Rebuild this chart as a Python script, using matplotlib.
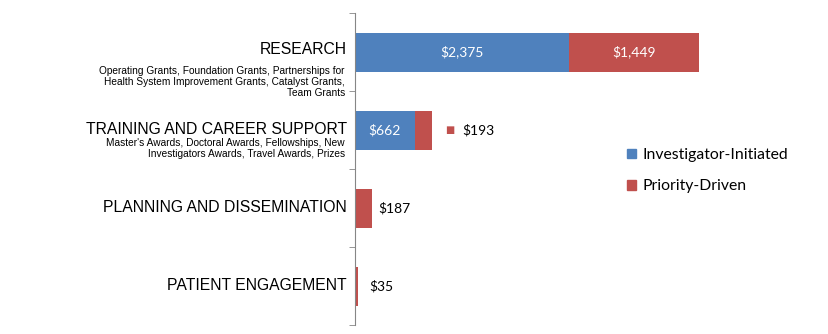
import matplotlib.pyplot as plt
from matplotlib.patches import Patch

# Data
categories = ['RESEARCH', 'TRAINING AND CAREER SUPPORT',
              'PLANNING AND DISSEMINATION', 'PATIENT ENGAGEMENT']
subtitles = ['Operating Grants, Foundation Grants, Partnerships for\n'
             'Health System Improvement Grants, Catalyst Grants,\n'
             'Team Grants',
             "Master's Awards, Doctoral Awards, Fellowships, New\n"
             'Investigators Awards, Travel Awards, Prizes',
             '', '']
investigator = [2375, 662, 0, 0]
priority = [1449, 193, 187, 35]
series_names = ['Investigator-Initiated', 'Priority-Driven']

blue = '#4F81BD'
red = '#C0504D'
axis_grey = '#868686'
label_font = 'Lato'
cat_font = 'Liberation Sans'

fig = plt.figure(figsize=(8.29, 3.34), dpi=100)
ax = fig.add_axes([355 / 829, 9 / 334, 360 / 829, 312 / 334])

y = list(range(len(categories)))
ax.barh(y, investigator, height=0.5, color=blue)
ax.barh(y, priority, left=investigator, height=0.5, color=red)

ax.set_xlim(0, 4000)
ax.set_ylim(len(categories) - 0.5, -0.5)

# axis styling: only the left category axis, ticks between categories
for s in ['top', 'right', 'bottom']:
    ax.spines[s].set_visible(False)
ax.spines['left'].set_color(axis_grey)
ax.set_xticks([])
ax.set_yticks([])
ax.set_yticks([i - 0.5 for i in range(len(categories) + 1)], minor=True)
ax.tick_params(axis='y', which='minor', length=4, color=axis_grey,
               labelleft=False)

px = 0.72  # points per pixel at 100 dpi

# category labels and small descriptions
main_offsets = {0: -2, 1: -1}
sub_offsets = {0: 30, 1: 18.5}
for i, cat in enumerate(categories):
    ax.annotate(cat, xy=(0, i), xytext=(-8 * px, -main_offsets.get(i, 0) * px),
                textcoords='offset points', ha='right', va='center',
                fontsize=11.3, family=cat_font, color='black')
    if subtitles[i]:
        ax.annotate(subtitles[i], xy=(0, i), xytext=(-10 * px, -sub_offsets[i] * px),
                    textcoords='offset points', ha='right', va='center',
                    multialignment='right', fontsize=7.3, family=cat_font,
                    linespacing=1.13, color='black')

# value labels
for i in range(len(categories)):
    inv = investigator[i]
    pri = priority[i]
    if inv > 0:
        ax.text(inv / 2, i, f'${inv:,}', ha='center', va='center',
                color='white', fontsize=10, family=label_font)
    if pri > 300:
        ax.text(inv + pri / 2, i, f'${pri:,}', ha='center', va='center',
                color='white', fontsize=10, family=label_font)
    elif inv > 0:
        # outside label with a legend key, as in the original
        ax.annotate('\u25A0', xy=(inv + pri, i), xytext=(13 * px, 0),
                    textcoords='offset points', ha='left', va='center',
                    fontsize=7, color=red, family='DejaVu Sans')
        ax.annotate(f'${pri:,}', xy=(inv + pri, i), xytext=(30 * px, 0),
                    textcoords='offset points', ha='left', va='center',
                    fontsize=10, family=label_font)
    else:
        gap = 6 if pri > 100 else 11
        ax.annotate(f'${pri:,}', xy=(inv + pri, i), xytext=(gap * px, 0),
                    textcoords='offset points', ha='left', va='center',
                    fontsize=10, family=label_font)

handles = [Patch(color=blue), Patch(color=red)]
fig.legend(handles, series_names, loc='upper left',
           bbox_to_anchor=(613 / 829, 1 - 134 / 334), frameon=False,
           handlelength=0.55, handleheight=0.55, handletextpad=0.4,
           labelspacing=1.1, prop={'family': label_font, 'size': 11.3})

plt.savefig('out.png', dpi=100)
